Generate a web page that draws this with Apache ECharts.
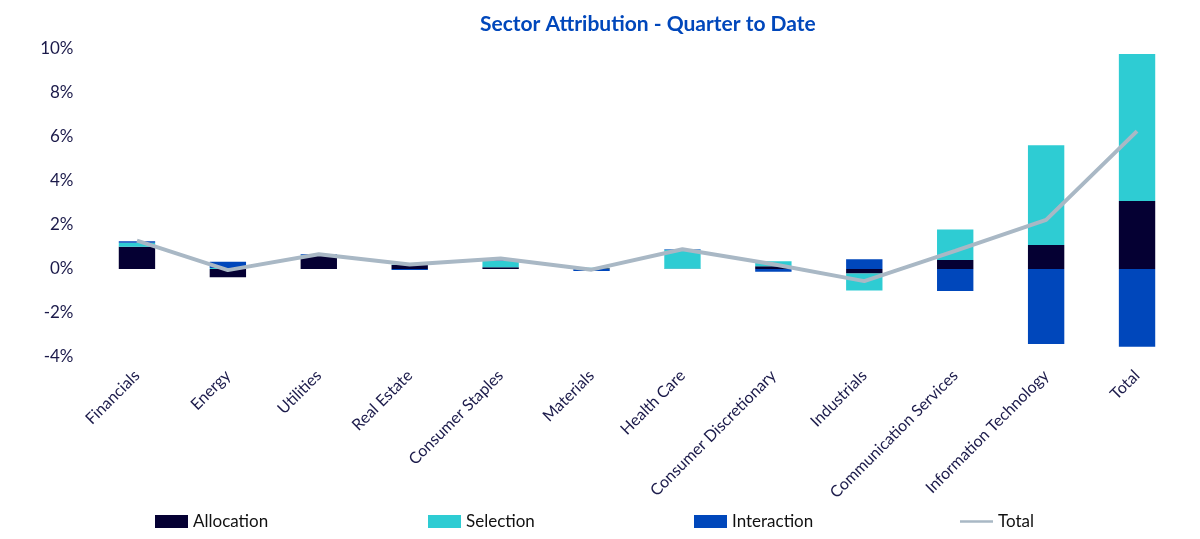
<!DOCTYPE html>
<html>
<head>
<meta charset="utf-8">
<script src="https://cdn.jsdelivr.net/npm/echarts@6/dist/echarts.min.js"></script>
<style>
  html, body { margin: 0; padding: 0; background: #fff; }
  #chart { width: 1200px; height: 539px; }
</style>
</head>
<body>
<div id="chart"></div>
<script>
// 数据
const categories = ['Financials', 'Energy', 'Utilities', 'Real Estate', 'Consumer Staples', 'Materials',
  'Health Care', 'Consumer Discretionary', 'Industrials', 'Communication Services', 'Information Technology', 'Total']
const allocation = [1.01, -0.38, 0.59, 0.18, 0.08, 0.03, 0.01, 0.12, -0.20, 0.41, 1.09, 3.09]
const selection = [0.18, 0.05, 0.03, 0.02, 0.30, 0.03, 0.87, 0.23, -0.78, 1.39, 4.53, 6.68]
const interaction = [0.07, 0.28, 0.05, -0.04, 0.08, -0.09, 0.02, -0.12, 0.44, -1.00, -3.41, -3.53]
const total = [1.29, -0.05, 0.67, 0.20, 0.48, -0.03, 0.90, 0.22, -0.55, 0.82, 2.23, 6.27]
const yTicks = { min: -4, max: 10, interval: 2 }

const font = 'Lato, "Open Sans", sans-serif'
const textColor = '#1b1a4a'

let myChart = echarts.init(document.getElementById('chart'))

// 图例: 每项单独定位
let legendItem = (name, left, icon) => ({
  data: [{ name: name, icon: icon }],
  left: left,
  top: 508,
  itemWidth: 33,
  itemHeight: 13,
  itemGap: 4,
  textStyle: { fontFamily: font, fontSize: 17, color: '#111' },
})

let options = {
  animation: false,
  title: {
    text: 'Sector Attribution - Quarter to Date',
    left: 475,
    top: 9,
    textStyle: { fontFamily: font, fontSize: 21, fontWeight: 'bold', color: '#0047BB' },
  },
  legend: [
    legendItem('Allocation', 150, 'rect'),
    legendItem('Selection', 423, 'rect'),
    legendItem('Interaction', 689, 'rect'),
    legendItem('Total', 955, 'path://M0,5 L40,5 L40,8 L0,8 Z'),
  ],
  grid: { left: 91.5, right: 17.5, top: 49, bottom: 182, containLabel: false },
  xAxis: {
    type: 'category',
    data: categories,
    axisLine: { show: false, onZero: false },
    axisTick: { show: false },
    axisLabel: {
      rotate: 45,
      interval: 0,
      margin: 16,
      fontFamily: font,
      fontSize: 16,
      color: textColor,
    },
  },
  yAxis: {
    type: 'value',
    min: yTicks.min,
    max: yTicks.max,
    interval: yTicks.interval,
    splitLine: { show: false },
    axisLine: { show: false },
    axisTick: { show: false },
    axisLabel: {
      formatter: '{value}%',
      margin: 18,
      fontFamily: font,
      fontSize: 17,
      color: textColor,
    },
  },
  series: [
    { name: 'Allocation', type: 'bar', stack: 'attr', barWidth: '40%', data: allocation, itemStyle: { color: '#050033' } },
    { name: 'Selection', type: 'bar', stack: 'attr', data: selection, itemStyle: { color: '#2ECCD3' } },
    { name: 'Interaction', type: 'bar', stack: 'attr', data: interaction, itemStyle: { color: '#0047BB' } },
    {
      name: 'Total', type: 'line', data: total, symbol: 'none',
      lineStyle: { color: '#A9B8C5', width: 4 }, itemStyle: { color: '#A9B8C5' },
    },
  ],
}

myChart.setOption(options)
</script>
</body>
</html>
